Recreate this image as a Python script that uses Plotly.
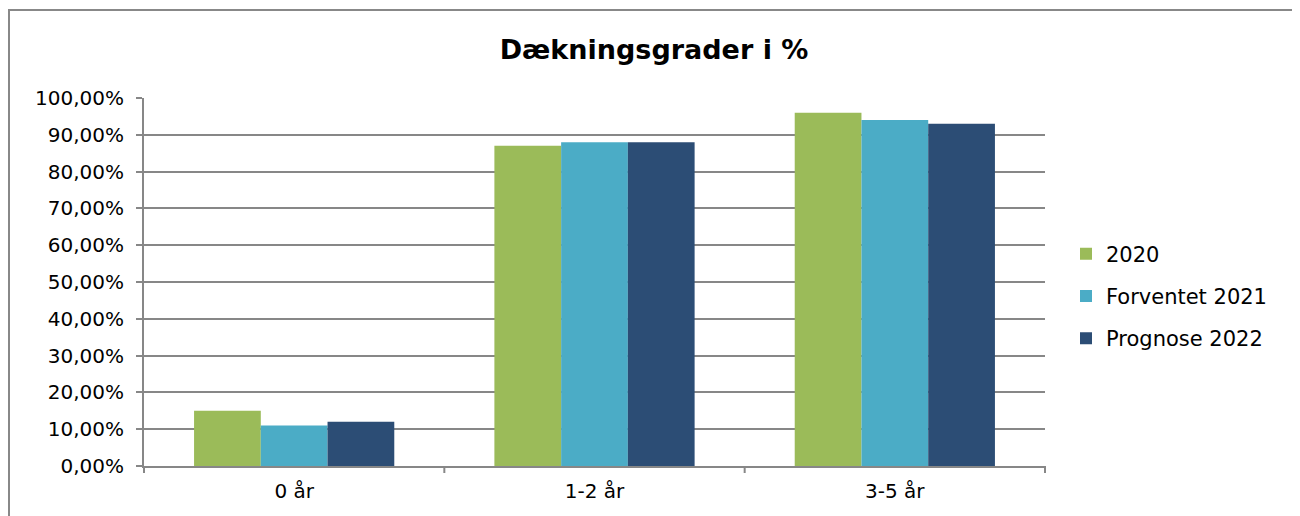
import plotly.graph_objects as go

categories = ["0 år", "1-2 år", "3-5 år"]
series_names = ["2020", "Forventet 2021", "Prognose 2022"]
values_2020 = [15, 87, 96]
values_2021 = [11, 88, 94]
values_2022 = [12, 88, 93]
colors = ["#9BBB59", "#4BACC6", "#2C4D75"]
y_ticks = [0, 10, 20, 30, 40, 50, 60, 70, 80, 90, 100]
y_tick_text = ["0,00%", "10,00%", "20,00%", "30,00%", "40,00%", "50,00%",
               "60,00%", "70,00%", "80,00%", "90,00%", "100,00%"]

OFF = 8  # default page body margin
W, H = 1300 - OFF, 516 - OFF
L, R, T, B = 144 - OFF, 1045 - OFF, 98 - OFF, 466 - OFF
pw, ph = R - L, B - T

fig = go.Figure()
for name, vals, c in zip(series_names, [values_2020, values_2021, values_2022], colors):
    fig.add_trace(go.Bar(x=categories, y=vals, name=name, marker_color=c,
                         marker_line_width=0, legendgroup=name))

def px_x(p):
    return (p - OFF - L) / pw

def px_y(p):
    return (B - (p - OFF)) / ph

fig.update_layout(
    width=W, height=H,
    margin=dict(l=L, r=W - R, t=T, b=H - B, autoexpand=False),
    paper_bgcolor="white", plot_bgcolor="white",
    barmode="group", bargap=1/3, bargroupgap=0,
    font=dict(family="DejaVu Sans, Verdana, sans-serif", size=20, color="#000000"),
    title=dict(text="<b>Dækningsgrader i %</b>", x=(654 - OFF) / W, xanchor="center",
               y=1 - (50 - OFF) / H, yanchor="middle", font=dict(size=27)),
    showlegend=True,
    legend=dict(x=px_x(1066), xanchor="left", y=px_y(296), yanchor="middle",
                font=dict(size=21), itemwidth=30, traceorder="grouped",
                tracegroupgap=12, bgcolor="rgba(0,0,0,0)"),
    xaxis=dict(showgrid=False, showline=True, linecolor="#878787", linewidth=2,
               ticks="", tickfont=dict(size=20), range=[-0.5, 2.5], fixedrange=True,
               ticklabelstandoff=6),
    yaxis=dict(range=[0, 100], tickvals=y_ticks, ticktext=y_tick_text,
               showgrid=True, gridcolor="#878787", gridwidth=1.5,
               showline=True, linecolor="#878787", linewidth=2,
               ticks="outside", ticklen=6, tickcolor="#878787", tickwidth=2,
               tickfont=dict(size=20), zeroline=False, ticklabelstandoff=8),
)

# category boundary tick marks on x axis
for i in range(len(categories) + 1):
    xv = i / len(categories)
    fig.add_shape(type="line", xref="paper", yref="paper", x0=xv, x1=xv,
                  y0=0, y1=-7 / ph, line=dict(color="#878787", width=2))

# outer chart border
fig.add_shape(type="rect", xref="paper", yref="paper",
              x0=px_x(9), x1=px_x(1293), y0=px_y(530), y1=px_y(10),
              line=dict(color="#888888", width=2), fillcolor="rgba(0,0,0,0)",
              layer="below")

fig.write_html("out.html")
